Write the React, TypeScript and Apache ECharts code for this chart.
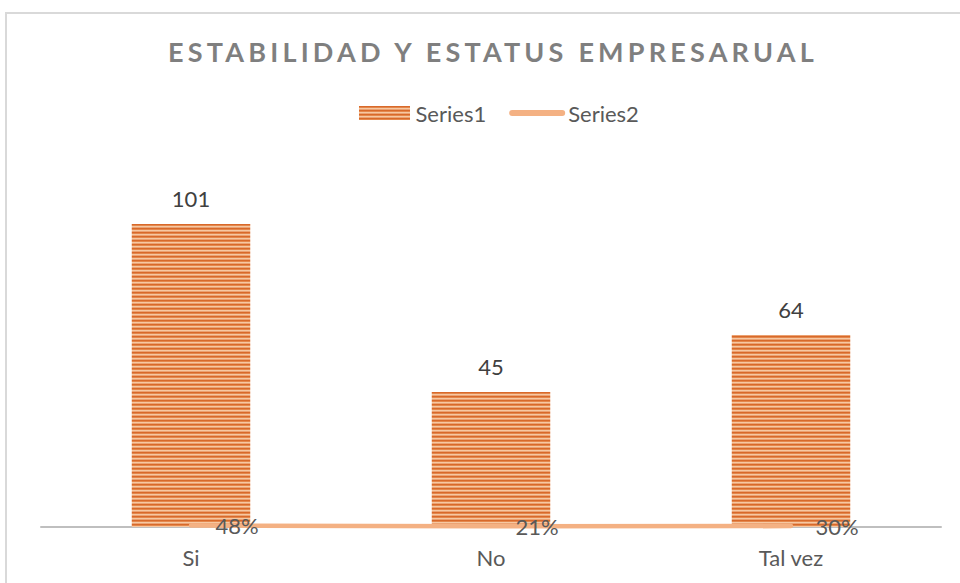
import React, { useEffect, useRef } from "react";
import * as echarts from "echarts";

const categories = ["Si", "No", "Tal vez"];
const series1Values = [101, 45, 64];
const series2Values = [0.48, 0.21, 0.3];
const titleText = "ESTABILIDAD Y ESTATUS EMPRESARUAL";

function makeStripePattern(): HTMLCanvasElement {
  const c = document.createElement("canvas");
  c.width = 8;
  c.height = 4;
  const ctx = c.getContext("2d")!;
  const rows = ["#D8692A", "#E4874C", "#F6C8A2", "#EBA272"];
  rows.forEach((col, i) => {
    ctx.fillStyle = col;
    ctx.fillRect(0, i, 8, 1);
  });
  return c;
}

export default function App() {
  const ref = useRef<HTMLDivElement>(null);
  useEffect(() => {
    if (!ref.current) return;
    const chart = echarts.init(ref.current, undefined, { renderer: "svg" });
    const pattern = makeStripePattern();
    const font = "Lato, 'Open Sans', sans-serif";
    chart.setOption({
      animation: false,
      backgroundColor: "#ffffff",
      title: {
        text: titleText,
        left: 488,
        textAlign: "center",
        top: 33,
        textStyle: {
          fontFamily: font,
          fontSize: 27,
          fontWeight: "bold",
          color: "#7F7F7F",
        },
      },
      legend: {
        top: 97,
        left: 354,
        itemGap: 23,
        itemWidth: 56,
        itemHeight: 14,
        textStyle: { fontFamily: font, fontSize: 22, color: "#595959", padding: [0, 0, 0, -2] },
        data: [
          { name: "Series1", icon: "path://M0,0h51v14h-51z" },
          { name: "Series2", icon: "path://M3,0h50a3,3 0 0 1 0,6h-50a3,3 0 0 1 0,-6z" },
        ],
      },
      graphic: [
        {
          type: "rect",
          shape: { x: 6, y: 13, width: 980, height: 620 },
          style: { fill: "none", stroke: "#D9D9D9", lineWidth: 2 },
          silent: true,
        },
      ],
      grid: { left: 41, right: 19, top: 197, bottom: 56 },
      xAxis: {
        type: "category",
        data: categories,
        axisLine: { lineStyle: { color: "#BFBFBF", width: 2 } },
        axisTick: { show: false },
        axisLabel: { fontFamily: font, fontSize: 22, color: "#595959", margin: 19 },
      },
      yAxis: {
        type: "value",
        min: 0,
        max: 110,
        show: false,
        splitLine: { show: false },
      },
      series: [
        {
          name: "Series1",
          type: "bar",
          data: series1Values,
          barWidth: "39.5%",
          itemStyle: { color: { image: pattern, repeat: "repeat" } },
          label: {
            show: true,
            position: "top",
            distance: 15,
            fontFamily: font,
            fontSize: 22,
            color: "#404040",
          },
          z: 2,
        },
        {
          name: "Series2",
          type: "line",
          data: series2Values,
          symbol: "circle",
          symbolSize: 1,
          showSymbol: true,
          lineStyle: { color: "#F4B183", width: 4.5, cap: "round" },
          itemStyle: { color: "#F4B183" },
          label: {
            show: true,
            position: "right",
            distance: 24,
            fontFamily: font,
            fontSize: 22,
            color: "#595959",
            formatter: (p: any) => Math.round(p.value * 100) + "%",
          },
          labelLayout: { hideOverlap: false },
          z: 3,
        },
      ],
    });
    const texts = ref.current.querySelectorAll("text");
    texts.forEach((t) => {
      if (t.textContent === titleText) {
        (t as SVGTextElement).style.letterSpacing = "4.2px";
      }
    });
    return () => chart.dispose();
  }, []);
  return (
    <div
      ref={ref}
      style={{ position: "fixed", left: 0, top: 0, width: 960, height: 583 }}
    />
  );
}
